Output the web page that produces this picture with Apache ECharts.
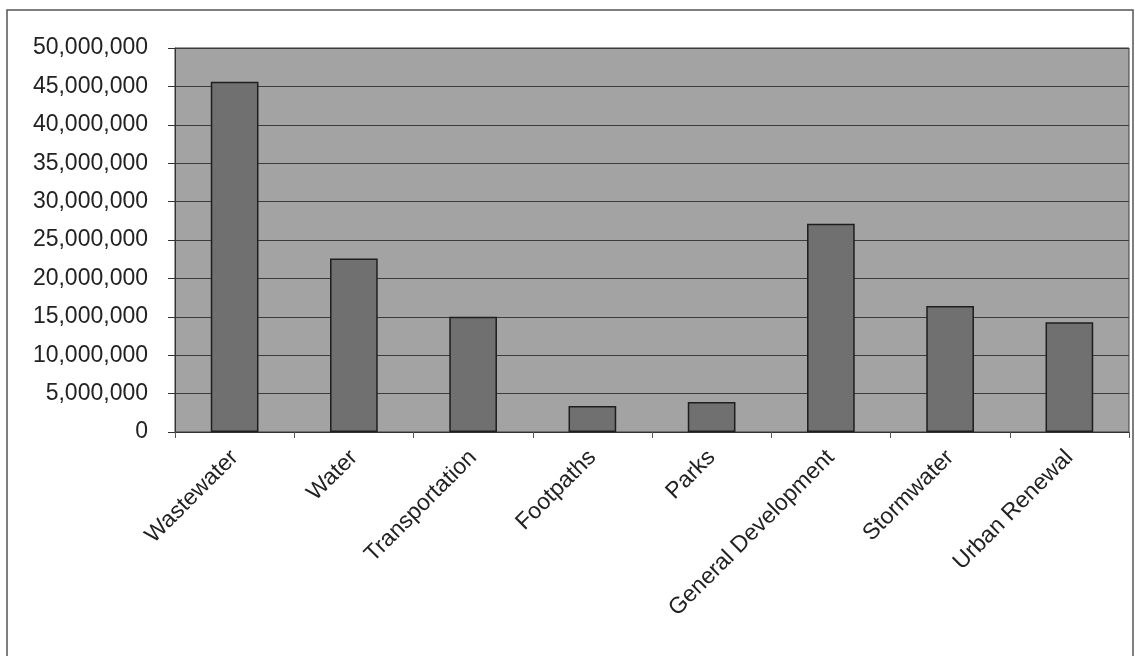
<!DOCTYPE html>
<html>
<head>
<meta charset="utf-8">
<script src="https://cdn.jsdelivr.net/npm/echarts@6/dist/echarts.min.js"></script>
<style>
  html, body { margin: 0; padding: 0; background: #fff; }
  #chart { width: 1135px; height: 656px; }
</style>
</head>
<body>
<div id="chart"></div>
<script>
// categories and values
var categories = ['Wastewater', 'Water', 'Transportation', 'Footpaths', 'Parks',
  'General Development', 'Stormwater', 'Urban Renewal']
var amounts = [45600000, 22600000, 15000000, 3400000, 3900000, 27100000, 16400000, 14300000]
var yMin = 0
var yMax = 50000000
var yStep = 5000000

var myChart = echarts.init(document.getElementById('chart'))
var fontFamily = '"Liberation Sans", Arial, sans-serif'

var option = {
  animation: false,
  backgroundColor: '#fff',
  graphic: [
    {
      // scanned page frame
      type: 'polyline',
      shape: { points: [[7, 660], [7, 10], [1133, 10], [1133, 660]] },
      style: { stroke: '#555', lineWidth: 1.5, fill: null }
    }
  ],
  grid: {
    left: 175,
    right: 6,
    top: 48,
    bottom: 224,
    show: true,
    backgroundColor: '#a3a3a3',
    borderColor: '#3a3a3a',
    borderWidth: 1
  },
  xAxis: {
    type: 'category',
    data: categories,
    axisLine: { lineStyle: { color: '#333', width: 1 } },
    axisTick: { show: true, length: 6, lineStyle: { color: '#555' } },
    axisLabel: {
      rotate: 45,
      interval: 0,
      margin: 22,
      color: '#222',
      fontSize: 23,
      fontFamily: fontFamily
    }
  },
  yAxis: {
    type: 'value',
    min: yMin,
    max: yMax,
    interval: yStep,
    axisLine: { show: true, lineStyle: { color: '#333' } },
    axisTick: { show: true, length: 7, lineStyle: { color: '#333' } },
    splitLine: { show: true, lineStyle: { color: '#3c3c3c', width: 1 } },
    axisLabel: {
      margin: 27,
      color: '#222',
      fontSize: 23,
      fontFamily: fontFamily,
      formatter: function (v) { return v.toLocaleString('en-US') }
    }
  },
  series: [
    {
      type: 'bar',
      data: amounts,
      barWidth: '40%',
      itemStyle: {
        color: '#707070',
        borderColor: '#1e1e1e',
        borderWidth: 1.5
      }
    }
  ]
}
myChart.setOption(option)
</script>
</body>
</html>
